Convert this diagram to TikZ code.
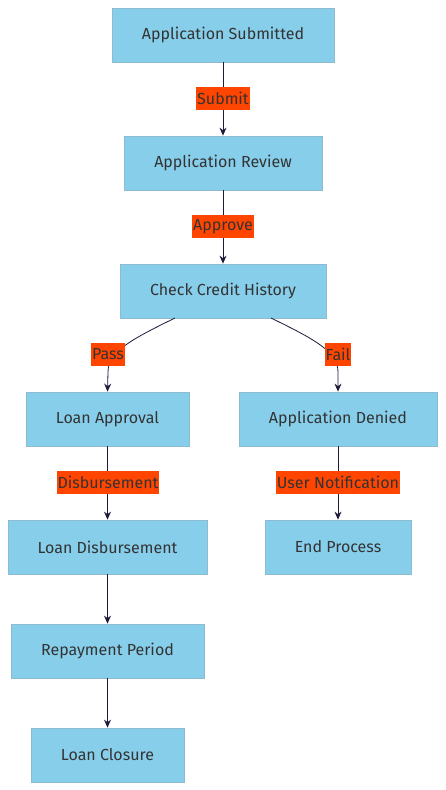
\documentclass[tikz,border=0pt]{standalone}
\usepackage{fontspec}
\setmainfont{Fira Sans}
\usetikzlibrary{arrows.meta}
\definecolor{boxfill}{HTML}{87CEEB}
\definecolor{boxline}{HTML}{8DBBD0}
\definecolor{lblbg}{HTML}{FF4500}
\definecolor{txt}{HTML}{333333}
\definecolor{edge}{HTML}{1C1C3A}
\begin{document}
\begin{tikzpicture}[x=1pt,y=-1pt,
  box/.style={rectangle,draw=boxline,fill=boxfill,line width=0.8pt,minimum height=54pt,inner sep=0pt,text=txt,font=\fontsize{16}{19}\selectfont},
  lbl/.style={rectangle,fill=lblbg,inner xsep=1pt,inner ysep=0pt,minimum height=23pt,text=txt,font=\fontsize{16}{19}\selectfont},
  conn/.style={draw=edge,line width=0.8pt,-{Stealth[length=8pt,width=7pt]}},
  plain/.style={draw=edge,line width=0.8pt}]
\useasboundingbox (0,0) rectangle (446,790);
\node[box,minimum width=222pt] (n1) at (223,35) {Application Submitted};
\node[box,minimum width=198pt] (n2) at (223,163) {Application Review};
\node[box,minimum width=206pt] (n3) at (223,291) {Check Credit History};
\node[box,minimum width=163pt] (n4) at (107.5,419) {Loan Approval};
\node[box,minimum width=198pt] (n5) at (338,419) {Application Denied};
\node[box,minimum width=199pt] (n6) at (107.5,547) {Loan Disbursement};
\node[box,minimum width=146pt] (n7) at (338,547) {End Process};
\node[box,minimum width=193pt] (n8) at (107.5,651) {Repayment Period};
\node[box,minimum width=153pt] (n9) at (107.5,755) {Loan Closure};
\coordinate (pa) at (175,318);
\coordinate (fa) at (271,318);
\draw[conn] (n1) -- (n2);
\draw[conn] (n2) -- (n3);
\draw[conn] (pa) .. controls (130,340) and (108,352) .. (108,372) -- (n4.north);
\draw[conn] (fa) .. controls (316,340) and (338,352) .. (338,372) -- (n5.north);
\draw[conn] (n4) -- (n6);
\draw[conn] (n5) -- (n7);
\draw[conn] (n6) -- (n8);
\draw[conn] (n8) -- (n9);
\node[lbl] (l1) at (223,98.5) {Submit};
\node[lbl] (l2) at (223,226.5) {Approve};
\node[lbl] (l3) at (108,354.5) {Pass};
\node[lbl] (l4) at (338,354.5) {Fail};
\node[lbl] (l5) at (108,482.5) {Disbursement};
\node[lbl] (l6) at (338,482.5) {User Notification};
\end{tikzpicture}
\end{document}
